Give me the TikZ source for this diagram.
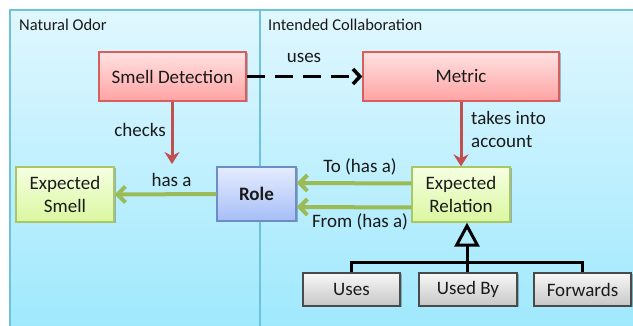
\documentclass[tikz,border=0pt]{standalone}
\usepackage{fontspec}
\setmainfont{Carlito}
\usetikzlibrary{arrows.meta,shadows}

\definecolor{panelTop}{HTML}{E0F7FE}
\definecolor{panelBot}{HTML}{9DE8FD}
\definecolor{panelEdge}{HTML}{6EC3DA}
\definecolor{redTop}{HTML}{FFE2E2}
\definecolor{redBot}{HTML}{FFA3A3}
\definecolor{redEdge}{HTML}{D65E5E}
\definecolor{grnTop}{HTML}{F6FFE2}
\definecolor{grnBot}{HTML}{DAF7A0}
\definecolor{grnEdge}{HTML}{A9C865}
\definecolor{bluTop}{HTML}{E6ECFF}
\definecolor{bluBot}{HTML}{A6BEF6}
\definecolor{bluEdge}{HTML}{6D8DC6}
\definecolor{gryTop}{HTML}{F8F8F8}
\definecolor{gryBot}{HTML}{C6C6C6}
\definecolor{gryEdge}{HTML}{4A4A4A}
\definecolor{redArrow}{HTML}{C0504D}
\definecolor{grnArrow}{HTML}{9BBB59}
\definecolor{ink}{HTML}{1A1A1A}

\tikzset{
  boxbase/.style={rectangle, minimum height=49pt, inner sep=2pt, align=center,
    text=ink, font=\fontsize{19}{23}\selectfont, line width=1.3pt,
    drop shadow={shadow xshift=1.5pt, shadow yshift=-1.5pt, opacity=0.25, fill=black}},
  redbox/.style={boxbase, draw=redEdge, top color=redTop, bottom color=redBot},
  grnbox/.style={boxbase, draw=grnEdge, top color=grnTop, bottom color=grnBot,
    minimum width=98pt, minimum height=55pt},
  blubox/.style={boxbase, draw=bluEdge, top color=bluTop, bottom color=bluBot,
    minimum width=79pt, minimum height=54pt, font=\fontsize{19}{23}\selectfont\bfseries},
  grybox/.style={boxbase, draw=gryEdge, top color=gryTop, bottom color=gryBot,
    minimum height=33pt, line width=1.1pt},
  heading/.style={text=ink, font=\fontsize{16.5}{19}\selectfont, inner sep=0pt},
  lbl/.style={text=ink, font=\fontsize{19}{23}\selectfont, inner sep=0pt},
  redarrow/.style={draw=redArrow, line width=3pt,
    -{Stealth[length=12pt, width=15pt, inset=4pt]}},
  grnarrow/.style={draw=grnArrow, line width=4pt,
    -{Straight Barb[length=8pt, width=16pt]}},
  usesarrow/.style={draw=black, line width=3.5pt, dash pattern=on 18pt off 10pt,
    -{Straight Barb[length=7pt, width=15pt]}},
  treeline/.style={draw=black, line width=3pt},
}

\begin{document}
\begin{tikzpicture}[x=1pt, y=-1pt]
  \useasboundingbox (0,0) rectangle (633,326);

  % the two swim lanes
  \begin{scope}
    \clip (0,0) rectangle (633,326);
    \path[top color=panelTop, bottom color=panelBot] (10,10) rectangle (640,340);
    \draw[panelEdge, line width=1.2pt] (10,340) -- (10,10) -- (640,10);
    \draw[panelEdge, line width=1.2pt] (260,10) -- (260,340);
  \end{scope}
  \node[heading, anchor=west] (laneA) at (19,25) {Natural Odor};
  \node[heading, anchor=west] (laneB) at (268,25) {Intended Collaboration};

  % elements
  \node[redbox, minimum width=147pt] (smell)  at (172.5,76.5) {Smell Detection};
  \node[redbox, minimum width=196pt] (metric) at (461,76.5) {Metric};
  \node[grnbox] (esmell) at (65,194.5) {Expected\\Smell};
  \node[blubox] (role) at (256.5,194) {Role};
  \node[grnbox] (erel) at (461,194.5) {Expected\\Relation};
  \node[grybox, minimum width=97pt] (uses)   at (351.5,289.5) {Uses};
  \node[grybox, minimum width=98pt] (usedby) at (468,289.5) {Used By};
  \node[grybox, minimum width=97pt] (fwd)    at (582.5,289.5) {Forwards};

  % relations
  \draw[usesarrow] (smell.east) -- (metric.west);
  \node[lbl] (usesLbl) at (304,58) {uses};

  \coordinate (checkEnd) at (172,164);
  \draw[redarrow] (smell.south -| checkEnd) -- (checkEnd);
  \node[lbl] (checksLbl) at (140,130) {checks};

  \draw[redarrow] (metric.south) -- (erel.north);
  \node[lbl, anchor=west, align=left, font=\fontsize{19}{23}\selectfont]
    (takesLbl) at (471,129.5) {takes into\\account};

  \draw[grnarrow] (role.west) -- (esmell.east);
  \node[lbl] (hasaLbl) at (171.5,180) {has a};

  \draw[grnarrow] ([yshift=11pt]erel.west) -- ([yshift=11pt]role.east);
  \node[lbl] (toLbl) at (360,167) {To (has a)};
  \draw[grnarrow] ([yshift=-13pt]erel.west) -- ([yshift=-13pt]role.east);
  \node[lbl] (fromLbl) at (360,222) {From (has a)};

  % generalisation tree
  \coordinate (bar) at (467,263);
  \draw[treeline] (uses.north) |- (bar) -| (fwd.north);
  \draw[treeline] (usedby.north -| bar) -- (bar);
  \draw[treeline, -{Triangle[open, length=24pt, width=25pt, line width=3pt]}]
    (bar) -- (erel.south -| bar);
\end{tikzpicture}
\end{document}
